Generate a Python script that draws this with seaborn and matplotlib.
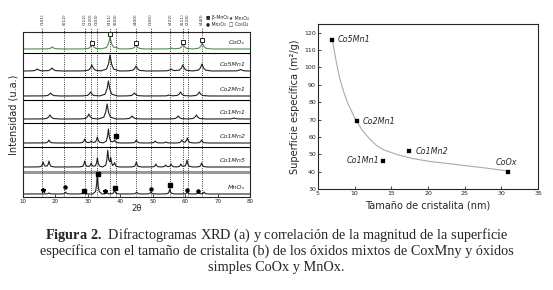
import matplotlib
matplotlib.use("Agg")
import matplotlib.pyplot as plt
import numpy as np
import pandas as pd
import seaborn as sns

sns.set_style("ticks")
plt.rcParams['font.family'] = ['DejaVu Sans']
plt.rcParams['mathtext.fontset'] = 'custom'
plt.rcParams['mathtext.rm'] = 'Liberation Serif'
plt.rcParams['mathtext.bf'] = 'Liberation Serif:bold'

# ---------------- (a) XRD data: (2theta, height)
samples = ['CoOₓ', 'Co5Mn1', 'Co2Mn1', 'Co1Mn1', 'Co1Mn2', 'Co1Mn5', 'MnOₓ']
peaks_coox = [(19.0, 2), (31.3, 5), (36.8, 12), (38.6, 1), (44.8, 4), (55.6, 1), (59.3, 5), (65.2, 6)]
peaks_co5mn1 = [(14.4, 2), (18.9, 3), (31.2, 6), (36.8, 16), (44.8, 5), (55.6, 2), (59.2, 6), (65.1, 7), (77.0, 1.5)]
peaks_co2mn1 = [(18.5, 3), (30.8, 4), (36.3, 15), (44.3, 3), (55.0, 1), (58.5, 4), (64.3, 4)]
peaks_co1mn1 = [(18.3, 4), (30.3, 5), (35.9, 15), (43.6, 3), (57.8, 3), (63.4, 4), (75.0, 1)]
peaks_co1mn2 = [(18.0, 3), (29.0, 4), (31.0, 2), (32.9, 6), (36.3, 14), (38.2, 3), (44.9, 3), (50.7, 2),
                (54.0, 1), (58.9, 3), (60.6, 5), (65.0, 3)]
peaks_co1mn5 = [(16.2, 5), (18.0, 6), (29.0, 6), (31.0, 4), (32.9, 9), (36.1, 16), (37.0, 8), (38.2, 4),
                (44.9, 5), (50.9, 3), (53.9, 2), (55.6, 3), (58.6, 3), (60.5, 7), (65.0, 4)]
peaks_mnox = [(18.0, 1), (23.1, 2), (28.7, 2), (32.9, 21), (35.8, 1.5), (38.2, 4), (45.0, 2), (49.4, 2),
              (55.2, 5), (60.6, 2), (64.0, 1.5), (65.8, 2)]
all_peaks = [peaks_coox, peaks_co5mn1, peaks_co2mn1, peaks_co1mn1, peaks_co1mn2, peaks_co1mn5, peaks_mnox]

hkl_pos = [16.0, 22.7, 29.0, 30.8, 32.7, 36.8, 38.5, 44.7, 49.3, 55.4, 59.2, 60.8, 65.0]
hkl_lbl = ['(101)', '(012)', '(112)', '(220)', '(103)', '(311)', '(004)', '(400)', '(105)', '(422)',
           '(511)', '(224)', '(440)']

# phase markers: (2theta, level)
co3o4_marks = [(31.3, 154), (36.8, 163), (44.8, 154), (59.3, 155), (65.2, 157)]
bmno2_marks = [(38.6, 61), (28.8, 6), (33.0, 23), (38.3, 9), (55.2, 12)]
mn2o3_marks = [(23.0, 10), (49.3, 8), (60.6, 7), (64.0, 6)]
mn3o4_marks = [(16.2, 7), (35.3, 6)]

# ---------------- (b) surface vs crystallite size
names = ['Co5Mn1', 'Co2Mn1', 'Co1Mn1', 'Co1Mn2', 'CoOx']
size_nm = [6.9, 10.3, 13.8, 17.4, 30.9]
area = [115.9, 69.1, 46.3, 51.7, 39.9]
fit_x = [7, 7.5, 8, 8.5, 9, 10, 11, 12, 13, 14, 16, 18, 20, 22, 25, 28, 31]
fit_y = [115, 103, 93, 86, 80, 71, 64, 59, 55, 52.5, 49.5, 47.5, 46, 45, 43.5, 42, 40.3]

fig = plt.figure(figsize=(5.53, 2.90), dpi=100)

# ----- left panel
ax = fig.add_axes([0.0416, 0.3207, 0.411, 0.569])
bounds = [0, 25, 50, 74, 97, 120, 144, 165]
baselines = [148, 126, 101, 78, 54, 30, 3]
widths = [1.8, 1.8, 1.7, 1.7, 1.1, 1.0, 0.9]

prof_dx = np.array([-1.6, -0.6, -0.25, 0, 0.25, 0.6, 1.6])
prof_fr = np.array([0, 0.12, 0.45, 1, 0.45, 0.12, 0])
grid = np.arange(10, 80.001, 0.05)

frames = []
for s, pk, b, w in zip(samples, all_peaks, baselines, widths):
    y = np.zeros_like(grid)
    for p, h in pk:
        y += h * np.interp(grid - p, prof_dx * w, prof_fr)
    frames.append(pd.DataFrame({'tt': grid, 'I': b + y, 'sample': s}))
df = pd.concat(frames)
pal = {s: '#222222' for s in samples}
pal['CoOₓ'] = '#4f8f4f'
sns.lineplot(data=df, x='tt', y='I', hue='sample', palette=pal, estimator=None,
             legend=False, lw=0.8, ax=ax)

for yb in bounds[1:-1]:
    if yb == 25:
        ax.axhline(yb, color='#999999', lw=2.2)
    else:
        ax.axhline(yb, color='k', lw=0.8)

ax.vlines(hkl_pos, 0, 170, colors='k', linestyles=':', lw=0.6, clip_on=False)
for p, l in zip(hkl_pos, hkl_lbl):
    ax.text(p, 178, l, rotation=90, fontsize=3.2, ha='center', va='center', clip_on=False)

for s, b in zip(samples, baselines):
    ax.text(78.5, b + 6, s, fontsize=4.6, style='italic', ha='right', va='center')

def marks(lst, **kw):
    ax.plot([m[0] for m in lst], [m[1] for m in lst], ls='none', **kw)

marks(co3o4_marks, marker='s', ms=2.2, mfc='white', mec='k', mew=0.6)
marks(bmno2_marks, marker='s', ms=2.2, color='k')
marks(mn2o3_marks, marker='o', ms=2.2, color='k')
marks(mn3o4_marks, marker='*', ms=3.2, color='k')

ax.text(66.5, 179, '■ β-MnO₂', fontsize=3.3, va='center', clip_on=False)
ax.text(66.5, 173, '● Mn₂O₃', fontsize=3.3, va='center', clip_on=False)
ax.text(73.5, 179, '★ Mn₃O₄', fontsize=3.3, va='center', clip_on=False)
ax.text(73.5, 173, '□ Co₃O₄', fontsize=3.3, va='center', clip_on=False)

ax.set_xlim(10, 80)
ax.set_ylim(0, 165)
ax.set_yticks([])
ax.set_xticks(range(10, 81, 10))
ax.tick_params(axis='x', labelsize=4, length=2, width=0.6, pad=1.5, direction='in')
ax.set_xlabel('2θ', fontsize=6, labelpad=0)
ax.set_ylabel('Intensidad (u.a.)', fontsize=7, labelpad=3)
for sp in ax.spines.values():
    sp.set_visible(True)
    sp.set_linewidth(0.8)

# ----- right panel
bx = fig.add_axes([0.575, 0.3483, 0.398, 0.569])
sns.lineplot(x=fit_x, y=fit_y, color='#aaaaaa', lw=0.8, ax=bx)
sns.scatterplot(x=size_nm, y=area, marker='s', s=8, color='k', edgecolor='k', ax=bx, zorder=3)
offs = {'Co5Mn1': (4, 0, 'left'), 'Co2Mn1': (4, 0, 'left'), 'Co1Mn1': (-2, 0, 'right'),
        'Co1Mn2': (5, 0, 'left'), 'CoOx': (-1, 7, 'center')}
for n, xv, yv in zip(names, size_nm, area):
    dx, dy, ha = offs[n]
    bx.annotate(n, (xv, yv), xytext=(dx, dy), textcoords='offset points', ha=ha, va='center',
                fontsize=5.8, style='italic')
bx.set_xlim(5, 35)
bx.set_ylim(30, 125)
bx.set_xticks(range(5, 36, 5))
bx.set_yticks(range(30, 121, 10))
bx.tick_params(labelsize=4.5, length=2, width=0.6, pad=1.5, direction='in')
bx.set_xlabel('Tamaño de cristalita (nm)', fontsize=7, labelpad=3)
bx.set_ylabel('Superficie específica (m²/g)', fontsize=7, labelpad=3)
for sp in bx.spines.values():
    sp.set_visible(True)
    sp.set_linewidth(0.8)

# ----- caption
cap = [r'$\mathbf{Figura\ 2.}$ Difractogramas XRD (a) y correlación de la magnitud de la superficie',
       'específica con el tamaño de cristalita (b) de los óxidos mixtos de CoxMny y óxidos',
       'simples CoOx y MnOx.']
for i, line in enumerate(cap):
    fig.text(0.5, 0.187 - i * 0.054, line, ha='center', va='center', fontsize=10.3,
             family='Liberation Serif')

fig.savefig('out.png', dpi=100)
